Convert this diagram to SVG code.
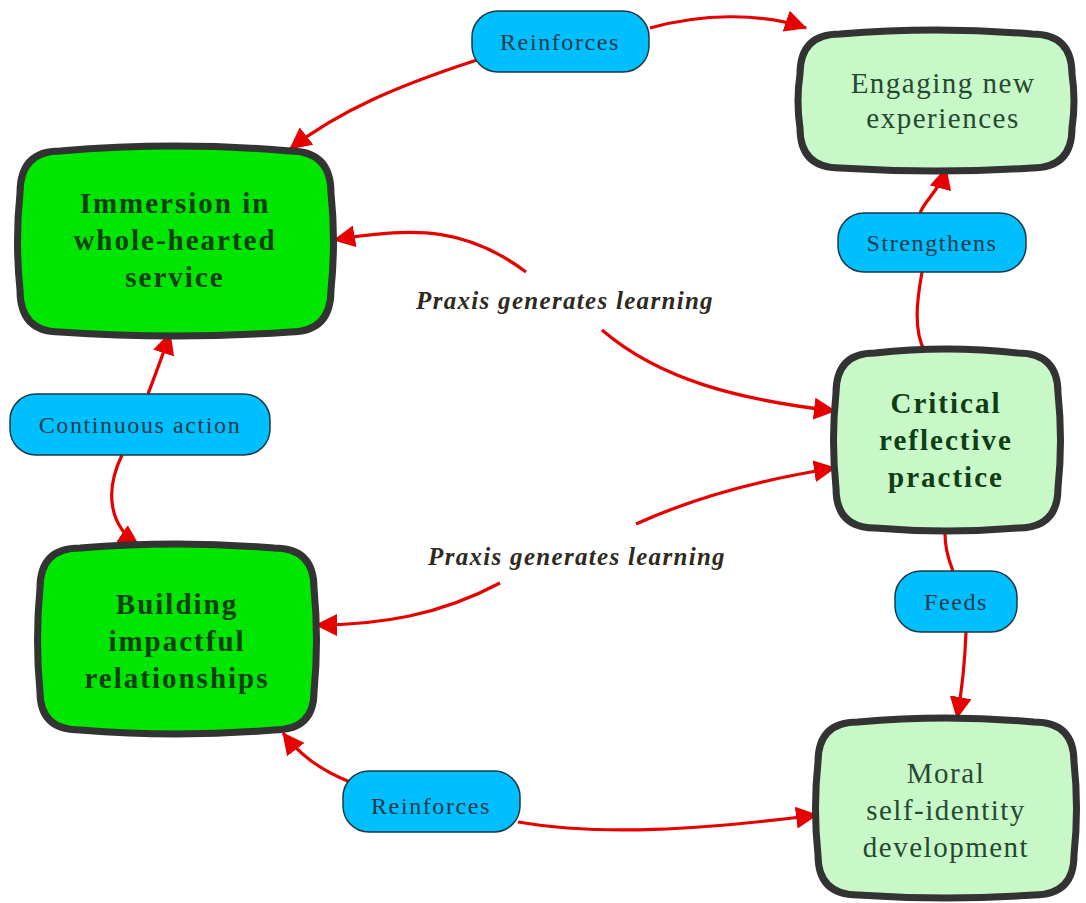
<svg xmlns="http://www.w3.org/2000/svg" width="1086" height="903" viewBox="0 0 1086 903">
<defs>
<style>
.node{stroke:#333333;stroke-width:7;stroke-linejoin:round}
.dark{fill:#00e600}
.light{fill:#c8f7c8}
.pill{fill:#00bfff;stroke:#1a3a4a;stroke-width:1.5}
.conn{fill:none;stroke:#e60000;stroke-width:3.2}
text{font-family:'Liberation Serif','Times New Roman',Times,serif;text-anchor:middle}
.bt{font-weight:bold;font-size:29px;letter-spacing:2px;fill:#0f3d14}
.nt{font-size:29px;letter-spacing:1.5px;fill:#244a30}
.pt{font-size:24px;letter-spacing:1.6px;fill:#1a3a4a}
.lt{font-style:italic;font-weight:bold;font-size:25px;letter-spacing:1.3px;fill:#2e2a1e}
</style>
<marker id="ah" viewBox="0 0 22 22" refX="21" refY="11" markerWidth="22" markerHeight="22" markerUnits="userSpaceOnUse" orient="auto">
<path d="M0,0 L22,11 L0,22 Z" fill="#e60000"/>
</marker>
</defs>
<rect width="1086" height="903" fill="#ffffff"/>

<g id="connectors">
<path class="conn" d="M477,60 C400,85 340,110 290,149" marker-end="url(#ah)"/>
<path class="conn" d="M650,28 C700,14 760,12 806,28" marker-end="url(#ah)"/>
<path class="conn" d="M920,213 C925,200 940,190 946,168" marker-end="url(#ah)"/>
<path class="conn" d="M925,352 C913,330 917,300 922,272"/>
<path class="conn" d="M526,272 C470,230 420,225 334,240" marker-end="url(#ah)"/>
<path class="conn" d="M602,330 C660,380 740,400 835,411" marker-end="url(#ah)"/>
<path class="conn" d="M636,524 C700,495 770,478 835,468" marker-end="url(#ah)"/>
<path class="conn" d="M500,583 C440,615 380,625 316,625" marker-end="url(#ah)"/>
<path class="conn" d="M148,394 C155,375 163,355 170,333" marker-end="url(#ah)"/>
<path class="conn" d="M122,455 C105,490 108,525 139,546" marker-end="url(#ah)"/>
<path class="conn" d="M350,782 C320,770 300,755 283,733" marker-end="url(#ah)"/>
<path class="conn" d="M518,822 C600,836 700,830 817,815" marker-end="url(#ah)"/>
<path class="conn" d="M945,534 C945,552 950,563 953,571"/>
<path class="conn" d="M966,632 C965,660 962,690 957,718" marker-end="url(#ah)"/>
</g>

<g id="immersion">
<path class="node dark" d="M60,151 Q175,141 290,151 Q331,151 331,193 Q336,241 331,290 Q331,332 290,332 Q175,340 60,332 Q20,332 20,290 Q15,241 20,193 Q20,151 60,151 Z"/>
<text class="bt" x="175" y="213">Immersion in</text>
<text class="bt" x="175" y="250">whole-hearted</text>
<text class="bt" x="175" y="287">service</text>
</g>

<g id="engaging">
<path class="node light" d="M840,34 Q936,26 1032,34 Q1072,34 1072,74 Q1076,101 1072,128 Q1072,168 1032,168 Q936,174 840,168 Q800,168 800,128 Q796,101 800,74 Q800,34 840,34 Z"/>
<text class="nt" x="943" y="93">Engaging new</text>
<text class="nt" x="943" y="128">experiences</text>
</g>

<g id="critical">
<path class="node light" d="M875,353 Q946,345 1018,353 Q1058,353 1058,393 Q1063,440 1058,488 Q1058,528 1018,528 Q946,534 875,528 Q836,528 836,488 Q831,440 836,393 Q836,353 875,353 Z"/>
<text class="bt" x="946" y="413">Critical</text>
<text class="bt" x="946" y="450">reflective</text>
<text class="bt" x="946" y="487">practice</text>
</g>

<g id="building">
<path class="node dark" d="M80,548 Q177,540 274,548 Q314,548 314,588 Q319,640 314,692 Q314,730 274,730 Q177,738 80,730 Q40,730 40,692 Q35,640 40,588 Q40,548 80,548 Z"/>
<text class="bt" x="177" y="614">Building</text>
<text class="bt" x="177" y="651">impactful</text>
<text class="bt" x="177" y="688">relationships</text>
</g>

<g id="moral">
<path class="node light" d="M858,722 Q946,714 1034,722 Q1074,722 1074,762 Q1079,808 1074,855 Q1074,895 1034,895 Q946,901 858,895 Q818,895 818,855 Q813,808 818,762 Q818,722 858,722 Z"/>
<text class="nt" x="946" y="783">Moral</text>
<text class="nt" x="946" y="820">self-identity</text>
<text class="nt" x="946" y="857">development</text>
</g>

<g id="label-reinforces-top">
<rect class="pill" x="472" y="11" width="177" height="61" rx="26"/>
<text class="pt" x="560" y="50">Reinforces</text>
</g>
<g id="label-strengthens">
<rect class="pill" x="838" y="213" width="188" height="59" rx="26"/>
<text class="pt" x="932" y="251">Strengthens</text>
</g>
<g id="label-continuous">
<rect class="pill" x="10" y="394" width="260" height="61" rx="26"/>
<text class="pt" x="140" y="433">Continuous action</text>
</g>
<g id="label-feeds">
<rect class="pill" x="895" y="571" width="122" height="61" rx="26"/>
<text class="pt" x="956" y="610">Feeds</text>
</g>
<g id="label-reinforces-bottom">
<rect class="pill" x="343" y="771" width="177" height="61" rx="26"/>
<text class="pt" x="431" y="814">Reinforces</text>
</g>
<g id="label-praxis-top">
<text class="lt" x="565" y="309">Praxis generates learning</text>
</g>
<g id="label-praxis-bottom">
<text class="lt" x="577" y="565">Praxis generates learning</text>
</g>
</svg>
